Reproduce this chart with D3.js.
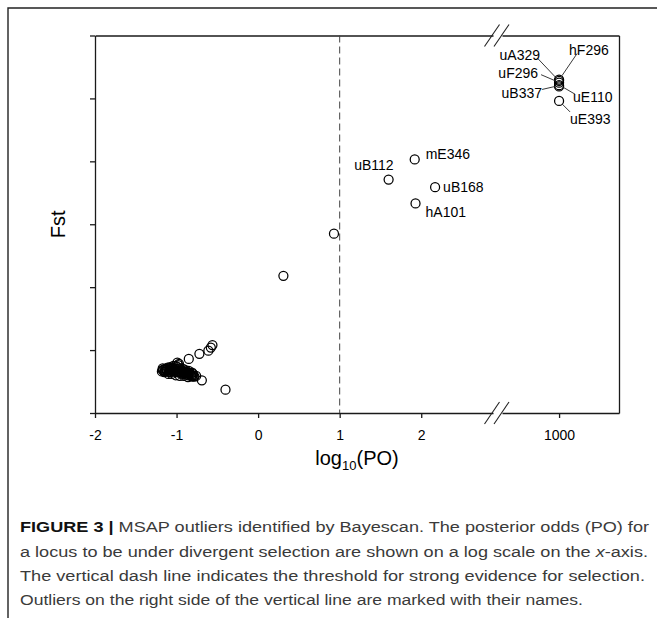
<html>
<head>
<meta charset="utf-8">
<style>
  body { margin: 0; background: #fff; }
  svg text { font-family: "Liberation Sans", Arial, sans-serif; }
</style>
</head>
<body>
<div id="chart"></div>
<script src="https://cdnjs.cloudflare.com/ajax/libs/d3/7.8.5/d3.min.js"></script>
<script>
// outliers with names (log10(PO) of 1000 = infinite odds)
var lociNames = ["hF296", "uA329", "uF296", "uE110", "uB337", "uE393", "mE346", "uB112", "uB168", "hA101"];
var lociLogPO = [1000, 1000, 1000, 1000, 1000, 1000, 1.92, 1.60, 2.17, 1.93];
var lociFst   = [0.530, 0.528, 0.525, 0.521, 0.519, 0.496, 0.403, 0.371, 0.359, 0.333];

// the other loci (no names)
var otherLogPO = [0.93, 0.31, -0.40, -0.69, -0.85, -0.72, -0.61, -0.58, -0.56, -0.99, -0.97,
  -1.17, -1.15, -1.13, -1.12, -1.09, -1.08, -1.06, -1.04, -1.02, -1.01, -0.98, -0.97, -0.95,
  -0.93, -0.91, -0.90, -0.87, -0.86, -0.84, -0.82, -0.80, -0.79, -0.76,
  -1.08, -1.04, -1.01, -0.98, -0.96, -0.92, -0.89, -0.85, -0.81,
  -1.10, -1.06, -1.01, -0.96, -0.91, -0.86,
  -1.18, -1.16, -1.14, -1.12, -1.10, -1.07, -1.05, -1.03, -1.00, -0.99, -0.96, -0.94,
  -0.92, -0.90, -0.88, -0.85, -0.83, -0.81, -0.78,
  -1.17, -1.14, -1.11, -1.08, -1.05, -1.02, -0.99, -0.95, -0.93, -0.89, -0.87, -0.84, -0.80];
var otherFst = [0.285, 0.218, 0.037, 0.052, 0.086, 0.094, 0.099, 0.104, 0.108, 0.080, 0.078,
  0.068, 0.065, 0.070, 0.067, 0.068, 0.065, 0.070, 0.067, 0.068, 0.065, 0.067, 0.064, 0.065,
  0.062, 0.065, 0.062, 0.064, 0.060, 0.062, 0.059, 0.060, 0.059, 0.059,
  0.073, 0.075, 0.075, 0.076, 0.071, 0.070, 0.068, 0.067, 0.064,
  0.062, 0.062, 0.060, 0.059, 0.059, 0.057,
  0.066, 0.069, 0.066, 0.069, 0.066, 0.069, 0.066, 0.069, 0.066, 0.070, 0.067, 0.063,
  0.066, 0.063, 0.061, 0.063, 0.061, 0.058, 0.058,
  0.071, 0.070, 0.072, 0.071, 0.072, 0.071, 0.073, 0.068, 0.067, 0.066, 0.065, 0.064, 0.062];

var xTicksLow = [-2, -1, 0, 1, 2];
var xTicksHigh = [1000];
var yTicks = [0, 0.1, 0.2, 0.3, 0.4, 0.5, 0.6];
var threshold = 1;

// label offsets from the point: text anchor, text dx/dy, leader line
var labelLayout = {
  hF296: {anchor: "start", dx: 10, dy: -25, line: [3, -4, 18, -26]},
  uA329: {anchor: "end", dx: -19, dy: -21, line: [-21, -22, -3, -3]},
  uF296: {anchor: "end", dx: -21, dy: -5, line: [-18, -8, -4, -2]},
  uE110: {anchor: "start", dx: 14, dy: 17, line: [4, 2, 16, 9]},
  uB337: {anchor: "end", dx: -17, dy: 12, line: [-17, 3, -4, 0]},
  uE393: {anchor: "start", dx: 11, dy: 23, line: [3, 3, 11, 11]},
  mE346: {anchor: "start", dx: 11, dy: 0},
  uB112: {anchor: "end", dx: 5, dy: -10},
  uB168: {anchor: "start", dx: 8, dy: 5},
  hA101: {anchor: "start", dx: 10, dy: 14}
};

(function() {
  var width = 657, height = 618;
  var plotLeft = 95, plotRight = 619, plotTop = 35.5, plotBottom = 413;
  var breakA = 493, breakB = 502;

  var svg = d3.select("#chart").append("svg")
    .attr("width", width).attr("height", height);

  // figure frame (top and left edges)
  svg.append("path").attr("d", "M8,618 V8 H657")
    .attr("fill", "none").attr("stroke", "#222").attr("stroke-width", 1.4);

  var xLow = d3.scaleLinear().domain([-2, 2.88]).range([plotLeft, breakA]);
  var xHigh = d3.scaleLinear().domain([999.3, 1000.735]).range([breakB, plotRight]);
  var x = function(v) { return v >= 500 ? xHigh(v) : xLow(v); };
  var y = d3.scaleLinear().domain([0, 0.6]).range([plotBottom, plotTop]);
  var plain = function(d) { return String(d); };

  function styleAxis(g) {
    g.selectAll("path, line").attr("stroke", "#1a1a1a").attr("stroke-width", 1.3);
    g.selectAll("text").attr("font-size", 14).attr("fill", "#000")
      .attr("font-family", "Liberation Sans, Arial, sans-serif");
  }

  svg.append("g").attr("transform", "translate(0," + plotBottom + ")")
    .call(d3.axisBottom(xLow).tickValues(xTicksLow).tickFormat(plain)
      .tickSize(5).tickSizeOuter(0).tickPadding(12))
    .call(styleAxis);
  svg.append("g").attr("transform", "translate(0," + plotBottom + ")")
    .call(d3.axisBottom(xHigh).tickValues(xTicksHigh).tickFormat(plain)
      .tickSize(5).tickSizeOuter(0).tickPadding(12))
    .call(styleAxis);
  svg.append("g").attr("transform", "translate(0," + plotTop + ")")
    .call(d3.axisTop(xLow).tickValues([]).tickSizeOuter(0)).call(styleAxis);
  svg.append("g").attr("transform", "translate(0," + plotTop + ")")
    .call(d3.axisTop(xHigh).tickValues([]).tickSizeOuter(0)).call(styleAxis);
  svg.append("g").attr("transform", "translate(" + plotLeft + ",0)")
    .call(d3.axisLeft(y).tickValues(yTicks).tickFormat("").tickSize(5).tickSizeOuter(0))
    .call(styleAxis);
  svg.append("g").attr("transform", "translate(" + plotRight + ",0)")
    .call(d3.axisRight(y).tickValues([]).tickSizeOuter(0)).call(styleAxis);

  // axis break marks
  [plotTop, plotBottom].forEach(function(yy) {
    [breakA - 1, breakB - 0.5].forEach(function(xx) {
      svg.append("line")
        .attr("x1", xx - 7.5).attr("y1", yy + 11)
        .attr("x2", xx + 7.5).attr("y2", yy - 11)
        .attr("stroke", "#222").attr("stroke-width", 1.1);
    });
  });

  // threshold line
  svg.append("line")
    .attr("x1", x(threshold)).attr("x2", x(threshold))
    .attr("y1", plotTop).attr("y2", plotBottom)
    .attr("stroke", "#444").attr("stroke-width", 1)
    .attr("stroke-dasharray", "7,4");

  // points
  var others = otherLogPO.map(function(v, i) { return {po: v, fst: otherFst[i]}; });
  var loci = lociNames.map(function(n, i) { return {name: n, po: lociLogPO[i], fst: lociFst[i]}; });

  svg.selectAll("circle.other").data(others).enter().append("circle")
    .attr("class", "other")
    .attr("cx", function(d) { return x(d.po); })
    .attr("cy", function(d) { return y(d.fst); })
    .attr("r", 4.5).attr("fill", "none").attr("stroke", "#000").attr("stroke-width", 1.25);

  svg.selectAll("circle.locus").data(loci).enter().append("circle")
    .attr("class", "locus")
    .attr("cx", function(d) { return x(d.po); })
    .attr("cy", function(d) { return y(d.fst); })
    .attr("r", 4.5).attr("fill", "none").attr("stroke", "#000").attr("stroke-width", 1.25);

  // leader lines and names
  loci.forEach(function(d) {
    var lay = labelLayout[d.name];
    var px = x(d.po), py = y(d.fst);
    if (lay.line) {
      svg.append("line")
        .attr("x1", px + lay.line[0]).attr("y1", py + lay.line[1])
        .attr("x2", px + lay.line[2]).attr("y2", py + lay.line[3])
        .attr("stroke", "#222").attr("stroke-width", 0.9);
    }
    svg.append("text")
      .attr("x", px + lay.dx).attr("y", py + lay.dy)
      .attr("text-anchor", lay.anchor)
      .attr("font-size", 14).attr("fill", "#000")
      .text(d.name);
  });

  // axis titles
  var xt = svg.append("text").attr("x", (plotLeft + plotRight) / 2).attr("y", 465)
    .attr("text-anchor", "middle").attr("font-size", 20).attr("fill", "#000");
  xt.append("tspan").text("log");
  xt.append("tspan").attr("font-size", 13).attr("dy", 5).text("10");
  xt.append("tspan").attr("dy", -5).text("(PO)");

  svg.append("text")
    .attr("transform", "translate(65," + ((plotTop + plotBottom) / 2) + ") rotate(-90)")
    .attr("text-anchor", "middle").attr("font-size", 20).attr("fill", "#000")
    .text("Fst");

  // caption
  var cap = svg.append("g").attr("font-size", 15.5).attr("fill", "#3a3a3a");
  var c1 = cap.append("text").attr("x", 20).attr("y", 532)
    .attr("textLength", 629).attr("lengthAdjust", "spacingAndGlyphs");
  c1.append("tspan").attr("font-weight", "bold").attr("fill", "#111").text("FIGURE 3 | ");
  c1.append("tspan").text("MSAP outliers identified by Bayescan. The posterior odds (PO) for");
  var c2 = cap.append("text").attr("x", 20).attr("y", 557)
    .attr("textLength", 628).attr("lengthAdjust", "spacingAndGlyphs");
  c2.append("tspan").text("a locus to be under divergent selection are shown on a log scale on the ");
  c2.append("tspan").attr("font-style", "italic").text("x");
  c2.append("tspan").text("-axis.");
  cap.append("text").attr("x", 20).attr("y", 581)
    .attr("textLength", 625).attr("lengthAdjust", "spacingAndGlyphs")
    .text("The vertical dash line indicates the threshold for strong evidence for selection.");
  cap.append("text").attr("x", 20).attr("y", 605)
    .attr("textLength", 563).attr("lengthAdjust", "spacingAndGlyphs")
    .text("Outliers on the right side of the vertical line are marked with their names.");
})();
</script>
</body>
</html>
